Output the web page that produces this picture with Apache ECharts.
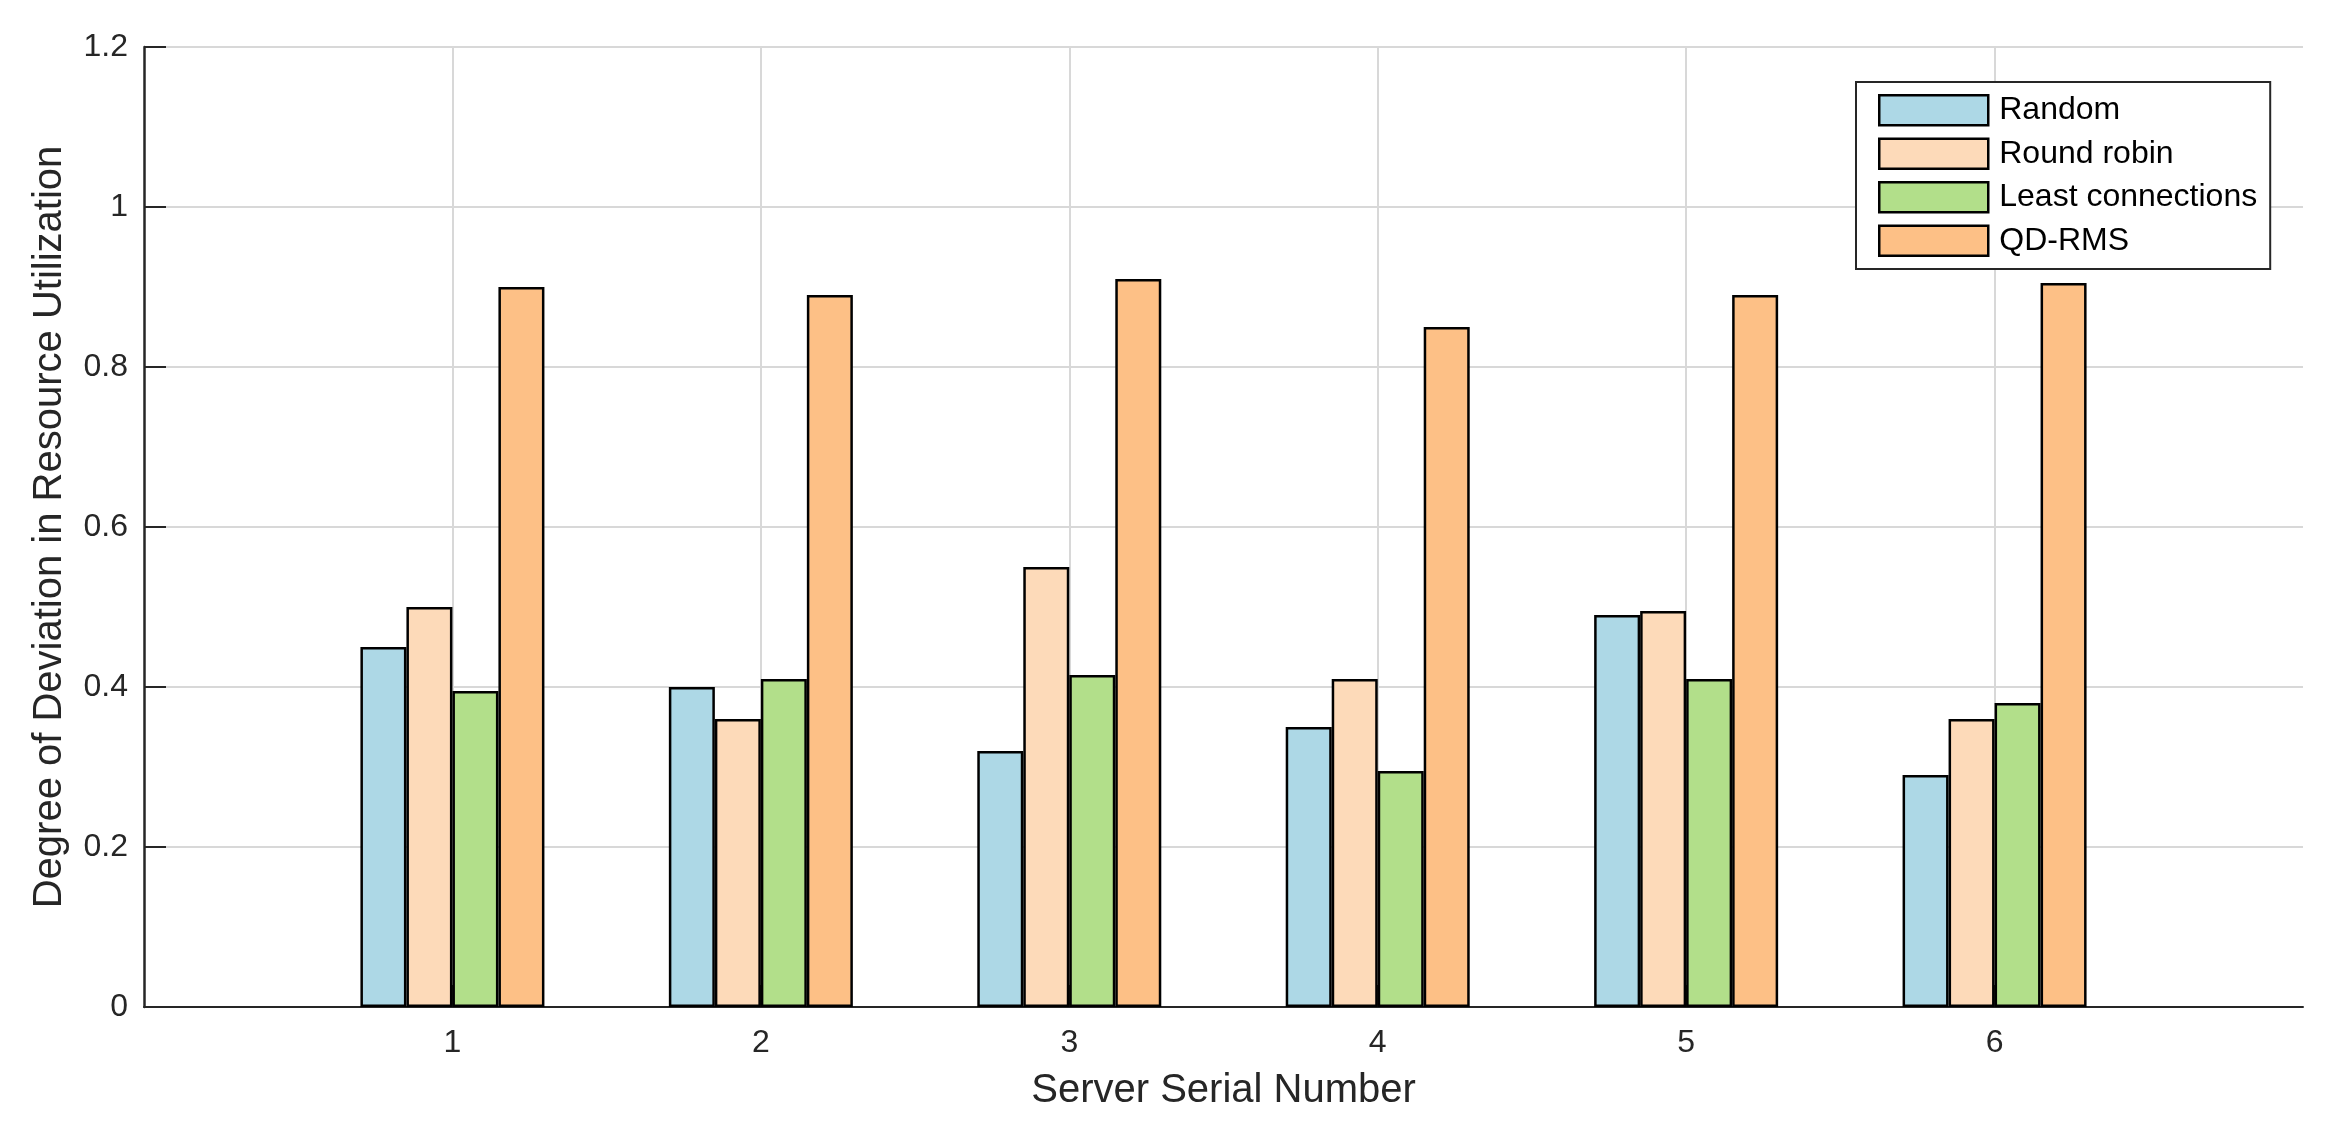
<!DOCTYPE html>
<html>
<head>
<meta charset="utf-8">
<script src="https://cdn.jsdelivr.net/npm/echarts@6/dist/echarts.min.js"></script>
<style>
html,body{margin:0;padding:0;background:#fff;}
#chart{width:2334px;height:1135px;}
</style>
</head>
<body>
<div id="chart"></div>
<script>
var categories = [1, 2, 3, 4, 5, 6];
var seriesNames = ['Random', 'Round robin', 'Least connections', 'QD-RMS'];
var randomVals = [0.45, 0.40, 0.32, 0.35, 0.49, 0.29];
var roundRobinVals = [0.50, 0.36, 0.55, 0.41, 0.495, 0.36];
var leastConnVals = [0.395, 0.41, 0.415, 0.295, 0.41, 0.38];
var qdrmsVals = [0.90, 0.89, 0.91, 0.85, 0.89, 0.905];
var yTicks = [0, 0.2, 0.4, 0.6, 0.8, 1, 1.2];
var colors = ['#add8e6', '#fddab9', '#b2df8a', '#fdc086'];

var allVals = [randomVals, roundRobinVals, leastConnVals, qdrmsVals];
var FONT = "'Liberation Sans', Arial, sans-serif";
var chart = echarts.init(document.getElementById('chart'), null, {renderer: 'canvas'});

var series = seriesNames.map(function (name, i) {
  return {
    name: name,
    type: 'bar',
    barWidth: 46,
    barGap: '0%',
    itemStyle: {color: colors[i], borderColor: '#000', borderWidth: 2.5},
    emphasis: {disabled: true},
    data: categories.map(function (c, j) { return [c, allVals[i][j]]; })
  };
});

chart.setOption({
  animation: false,
  backgroundColor: '#fff',
  textStyle: {fontFamily: FONT},
  grid: {left: 144, right: 31, top: 47, bottom: 128, containLabel: false},
  legend: {
    orient: 'vertical',
    left: 1856,
    top: 82,
    padding: [12, 13, 12, 22],
    itemWidth: 109,
    itemHeight: 30,
    itemGap: 11,
    backgroundColor: '#fff',
    borderColor: '#262626',
    borderWidth: 2,
    icon: 'rect',
    itemStyle: {borderColor: '#000', borderWidth: 2.5},
    textStyle: {fontFamily: FONT, fontSize: 32, color: '#000', padding: [0, 0, 0, 6]},
    data: seriesNames
  },
  xAxis: {
    type: 'value',
    min: 0,
    max: 7,
    interval: 1,
    name: 'Server Serial Number',
    nameLocation: 'middle',
    nameGap: 64,
    nameTextStyle: {fontFamily: FONT, fontSize: 40, color: '#262626'},
    axisLine: {show: true, onZero: false, lineStyle: {color: '#262626', width: 2}},
    axisTick: {show: true, inside: true, length: 22, customValues: categories, lineStyle: {color: '#262626', width: 2}},
    axisLabel: {show: true, margin: 20, fontFamily: FONT, fontSize: 32, color: '#262626', customValues: categories,
      formatter: function (v) { return String(v); }},
    splitLine: {show: true, lineStyle: {color: '#d8d8d8', width: 2}}
  },
  yAxis: {
    type: 'value',
    min: yTicks[0],
    max: yTicks[yTicks.length - 1],
    interval: 0.2,
    name: 'Degree of Deviation in Resource Utilization',
    nameLocation: 'middle',
    nameGap: 74,
    nameTextStyle: {fontFamily: FONT, fontSize: 40, color: '#262626'},
    axisLine: {show: true, lineStyle: {color: '#262626', width: 2.5}},
    axisTick: {show: true, inside: true, length: 22, lineStyle: {color: '#262626', width: 2}},
    axisLabel: {margin: 16, fontFamily: FONT, fontSize: 32, color: '#262626'},
    splitLine: {show: true, lineStyle: {color: '#d8d8d8', width: 2}}
  },
  series: series
});
</script>
</body>
</html>
